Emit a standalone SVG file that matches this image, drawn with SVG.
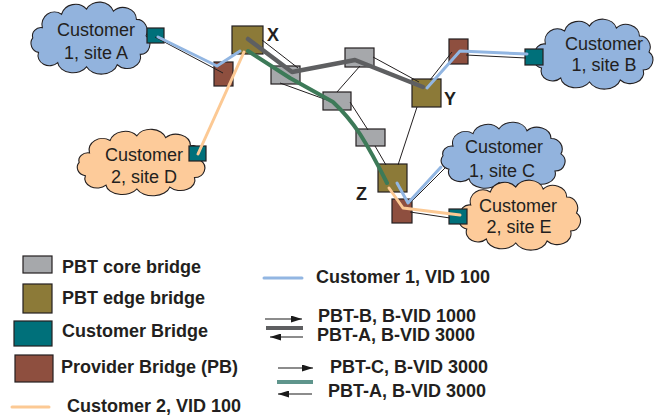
<svg xmlns="http://www.w3.org/2000/svg" width="659" height="420" viewBox="0 0 659 420">
  <style>
    .cloud-text { font-family: "Liberation Sans", Arial, sans-serif; font-size: 18px; fill: #231f20; text-anchor: middle; }
    .label { font-family: "Liberation Sans", Arial, sans-serif; font-size: 18px; font-weight: bold; fill: #231f20; }
    .cloud { stroke: #231f20; stroke-width: 1.1; }
    .c1 { fill: #92b3dd; }
    .c2 { fill: #fdcb9a; }
    .box { stroke: #231f20; stroke-width: 1.2; }
    .core { fill: #a6a8ab; }
    .edge { fill: #8c7a38; }
    .cust { fill: #00707a; }
    .pb { fill: #8e4f3f; }
    .link { stroke: #231f20; stroke-width: 1; fill: none; }
    .vid1 { stroke: #92b6e2; stroke-width: 3; fill: none; stroke-linejoin: round; stroke-linecap: round; }
    .vid2 { stroke: #fcc994; stroke-width: 3; fill: none; stroke-linejoin: round; stroke-linecap: round; }
    .pbt-ab { stroke: #5e5f61; stroke-width: 4.5; fill: none; stroke-linejoin: round; stroke-linecap: round; }
    .pbt-ca { stroke: #3d7a58; stroke-width: 4; fill: none; stroke-linejoin: round; stroke-linecap: round; }
    .arrow { stroke: #1a1a1a; stroke-width: 1.2; fill: none; }
  </style>
  <defs>
    <!-- scalloped cloud outline in a 130x64 box -->
    <path id="cloud-shape" d="M 16,22 A 13,12 0 0 1 36,9 A 15,13 0 0 1 62,4 A 15,12 0 0 1 90,6 A 14,12 0 0 1 114,14 A 11,11 0 0 1 124,30 A 10,10 0 0 1 118,48 A 14,11 0 0 1 94,58 A 17,12 0 0 1 62,60 A 16,11 0 0 1 32,56 A 12,10 0 0 1 12,46 A 10,9 0 0 1 6,32 A 9,8 0 0 1 16,22 Z"/>
    <marker id="arrowhead" viewBox="0 0 11 7" refX="11" refY="3.5" markerWidth="11" markerHeight="7" markerUnits="userSpaceOnUse" orient="auto">
      <path d="M0,0 L11,3.5 L0,7 Z" fill="#1a1a1a"/>
    </marker>
  </defs>

  <!-- customer sites -->
  <g id="site-a">
    <use href="#cloud-shape" class="cloud c1" transform="translate(27,5) scale(0.96,1.03)"/>
    <text class="cloud-text" x="96" y="36">Customer</text>
    <text class="cloud-text" x="96" y="59">1, site A</text>
  </g>
  <g id="site-d">
    <use href="#cloud-shape" class="cloud c2" transform="translate(73,132) scale(1.03,0.95)"/>
    <text class="cloud-text" x="144" y="161">Customer</text>
    <text class="cloud-text" x="144" y="183">2, site D</text>
  </g>
  <g id="site-b">
    <use href="#cloud-shape" class="cloud c1" transform="translate(530,22) scale(0.96,1.0)"/>
    <text class="cloud-text" x="604" y="50">Customer</text>
    <text class="cloud-text" x="604" y="71">1, site B</text>
  </g>
  <g id="site-c">
    <use href="#cloud-shape" class="cloud c1" transform="translate(437,125) scale(1.0,0.96)"/>
    <text class="cloud-text" x="504" y="153">Customer</text>
    <text class="cloud-text" x="502" y="177">1, site C</text>
  </g>
  <g id="site-e">
    <use href="#cloud-shape" class="cloud c2" transform="translate(455,183) scale(0.98,1.0)"/>
    <text class="cloud-text" x="518" y="212">Customer</text>
    <text class="cloud-text" x="519" y="233">2, site E</text>
  </g>

  <!-- bridges -->
  <g id="cb-a"><rect class="box cust" x="147" y="28" width="17" height="15"/></g>
  <g id="cb-d"><rect class="box cust" x="189" y="146" width="17" height="15"/></g>
  <g id="cb-b"><rect class="box cust" x="525" y="49" width="18" height="16"/></g>
  <g id="cb-e"><rect class="box cust" x="449" y="209" width="18" height="15"/></g>
  <g id="pb-x"><rect class="box pb" x="214" y="62" width="19" height="24"/></g>
  <g id="pb-y"><rect class="box pb" x="449" y="39" width="19" height="25"/></g>
  <g id="pb-z"><rect class="box pb" x="392" y="199" width="20" height="24"/></g>
  <g id="edge-x">
    <rect class="box edge" x="232" y="26" width="31" height="28"/>
    <text class="label" x="267" y="41">X</text>
  </g>
  <g id="edge-y">
    <rect class="box edge" x="412" y="79" width="29" height="28"/>
    <text class="label" x="444" y="105">Y</text>
  </g>
  <g id="edge-z">
    <rect class="box edge" x="378" y="164" width="29" height="28"/>
    <text class="label" x="356" y="200">Z</text>
  </g>
  <g id="core-1"><rect class="box core" x="271" y="66" width="29" height="18"/></g>
  <g id="core-2"><rect class="box core" x="345" y="48" width="29" height="19"/></g>
  <g id="core-3"><rect class="box core" x="323" y="92" width="28" height="18"/></g>
  <g id="core-4"><rect class="box core" x="356" y="129" width="29" height="17"/></g>

  <!-- links and service paths -->
  <g id="connectors">
    <path class="link" d="M155,37 L223,73"/>
    <path class="link" d="M262,40 L298,68"/>
    <path class="link" d="M280,83 L327,100"/>
    <path class="link" d="M360,66 L337,92"/>
    <path class="link" d="M373,57 L419,82"/>
    <path class="link" d="M350,102 L368,130"/>
    <path class="link" d="M375,146 L386,165"/>
    <path class="link" d="M417,107 L398,165"/>
    <path class="link" d="M430,80 L452,52"/>
    <path class="link" d="M466,55 L526,58"/>
    <path class="link" d="M410,203 L445,168"/>
    <path class="link" d="M410,212 L450,218"/>

    <path class="vid1" d="M158,37 L217,66 L240,51"/>
    <path class="vid1" d="M427,88 L460,51 L527,54"/>
    <path class="vid1" d="M397,183 L408,203 L441,167"/>

    <path class="vid2" d="M244,52 L198,154"/>
    <path class="vid2" d="M389,188 L403,208 L460,215"/>

    <path class="pbt-ab" d="M248,39 L292,72 L355,60 L423,87"/>
    <path class="pbt-ca" d="M248,51 L290,78 L333,102 Q348,116 360,134 Q372,153 387,183"/>
  </g>

  <!-- legend -->
  <g id="legend">
    <rect class="box core" x="23" y="256" width="29" height="17"/>
    <text class="label" x="62" y="273">PBT core bridge</text>
    <rect class="box edge" x="23" y="284" width="29" height="29"/>
    <text class="label" x="62" y="304">PBT edge bridge</text>
    <rect class="box cust" x="14" y="321" width="38" height="25"/>
    <text class="label" x="62" y="337">Customer Bridge</text>
    <rect class="box pb" x="15" y="355" width="38" height="27"/>
    <text class="label" x="61" y="373">Provider Bridge (PB)</text>
    <line class="vid2" x1="12" y1="407" x2="49" y2="407"/>
    <text class="label" x="67" y="412">Customer 2, VID 100</text>

    <line class="vid1" x1="264" y1="278" x2="302" y2="278"/>
    <text class="label" x="316" y="283">Customer 1, VID 100</text>

    <line class="arrow" x1="265" y1="319" x2="302" y2="319" marker-end="url(#arrowhead)"/>
    <line x1="266" y1="328" x2="303" y2="328" stroke="#5e5f61" stroke-width="4"/>
    <line class="arrow" x1="303" y1="337" x2="270" y2="337" marker-end="url(#arrowhead)"/>
    <text class="label" x="318" y="322">PBT-B, B-VID 1000</text>
    <text class="label" x="317" y="341">PBT-A, B-VID 3000</text>

    <line class="arrow" x1="278" y1="368" x2="313" y2="368" marker-end="url(#arrowhead)"/>
    <line x1="277" y1="382" x2="313" y2="382" stroke="#5f958c" stroke-width="4"/>
    <line class="arrow" x1="312" y1="394" x2="278" y2="394" marker-end="url(#arrowhead)"/>
    <text class="label" x="330" y="373">PBT-C, B-VID 3000</text>
    <text class="label" x="328" y="397">PBT-A, B-VID 3000</text>
  </g>
</svg>
